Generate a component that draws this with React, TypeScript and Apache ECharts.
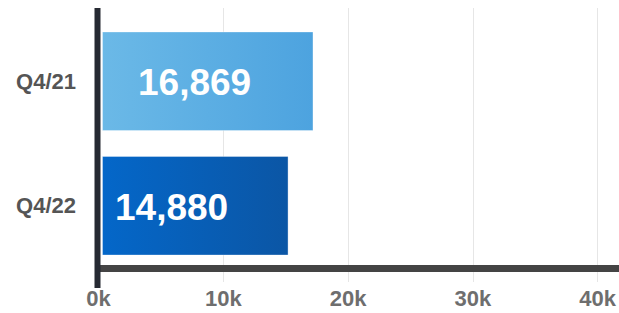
import React, { useEffect, useRef } from "react";
import * as echarts from "echarts";

const categories = ["Q4/21", "Q4/22"];
const values = [16869, 14880];
const xTicks = [0, 10000, 20000, 30000, 40000];

const barGradients = [
  ["#6bb9e7", "#4da3df"],
  ["#0467c9", "#0b56a5"],
];
const labelDistances = [36, 13];
const FONT = "'Liberation Sans', Arial, Helvetica, sans-serif";

export default function App() {
  const ref = useRef<HTMLDivElement>(null);
  useEffect(() => {
    if (!ref.current) return;
    const chart = echarts.init(ref.current, null, { renderer: "svg" });
    const maxV = xTicks[xTicks.length - 1];
    const step = xTicks[1] - xTicks[0];
    chart.setOption({
      animation: false,
      backgroundColor: "#ffffff",
      grid: [
        { left: 98.5, right: 19, top: 8, bottom: 31 },
        { left: 102, right: 15.5, top: 19, bottom: 45 },
      ],
      xAxis: [
        {
          gridIndex: 0,
          type: "value",
          min: xTicks[0],
          max: maxV,
          interval: step,
          axisLine: { show: false },
          axisTick: { show: false },
          splitLine: { show: true, lineStyle: { color: "#e6e6e6", width: 1 } },
          axisLabel: {
            margin: 5,
            color: "#6e6e6e",
            fontSize: 22,
            fontWeight: "bold",
            fontFamily: FONT,
            formatter: (v: number) => `${v / 1000}k`,
          },
        },
        {
          gridIndex: 1,
          type: "value",
          min: xTicks[0],
          max: maxV,
          interval: step,
          show: false,
        },
      ],
      yAxis: [
        {
          gridIndex: 0,
          type: "category",
          data: categories,
          show: false,
        },
        {
          gridIndex: 1,
          type: "category",
          data: categories,
          inverse: true,
          axisLine: { show: false },
          axisTick: { show: false },
          axisLabel: {
            margin: 26,
            color: "#555555",
            fontSize: 22,
            fontWeight: "bold",
            fontFamily: FONT,
          },
        },
      ],
      series: [
        {
          type: "bar",
          xAxisIndex: 1,
          yAxisIndex: 1,
          barWidth: "80%",
          data: values.map((v, i) => ({
            value: v,
            itemStyle: {
              color: new echarts.graphic.LinearGradient(0, 0, 1, 0, [
                { offset: 0, color: barGradients[i][0] },
                { offset: 1, color: barGradients[i][1] },
              ]),
              borderColor: "rgba(255,255,255,0.35)",
              borderWidth: 1,
            },
            label: { distance: labelDistances[i] },
          })),
          label: {
            show: true,
            position: "insideLeft",
            color: "#ffffff",
            fontSize: 37,
            fontWeight: "bold",
            fontFamily: FONT,
            offset: [0, 1.5],
            formatter: (p: any) => Number(p.value).toLocaleString("en-US"),
          },
        },
      ],
      graphic: [
        {
          type: "line",
          z: 100,
          shape: { x1: 98, y1: 268.5, x2: 619, y2: 268.5 },
          style: { stroke: "#444444", lineWidth: 7 },
        },
        {
          type: "line",
          z: 101,
          shape: { x1: 97.5, y1: 8, x2: 97.5, y2: 288 },
          style: { stroke: "#262a33", lineWidth: 6 },
        },
      ],
    });
    return () => chart.dispose();
  }, []);
  return (
    <div
      ref={ref}
      style={{ position: "absolute", left: 0, top: 0, width: 619, height: 313 }}
    />
  );
}
